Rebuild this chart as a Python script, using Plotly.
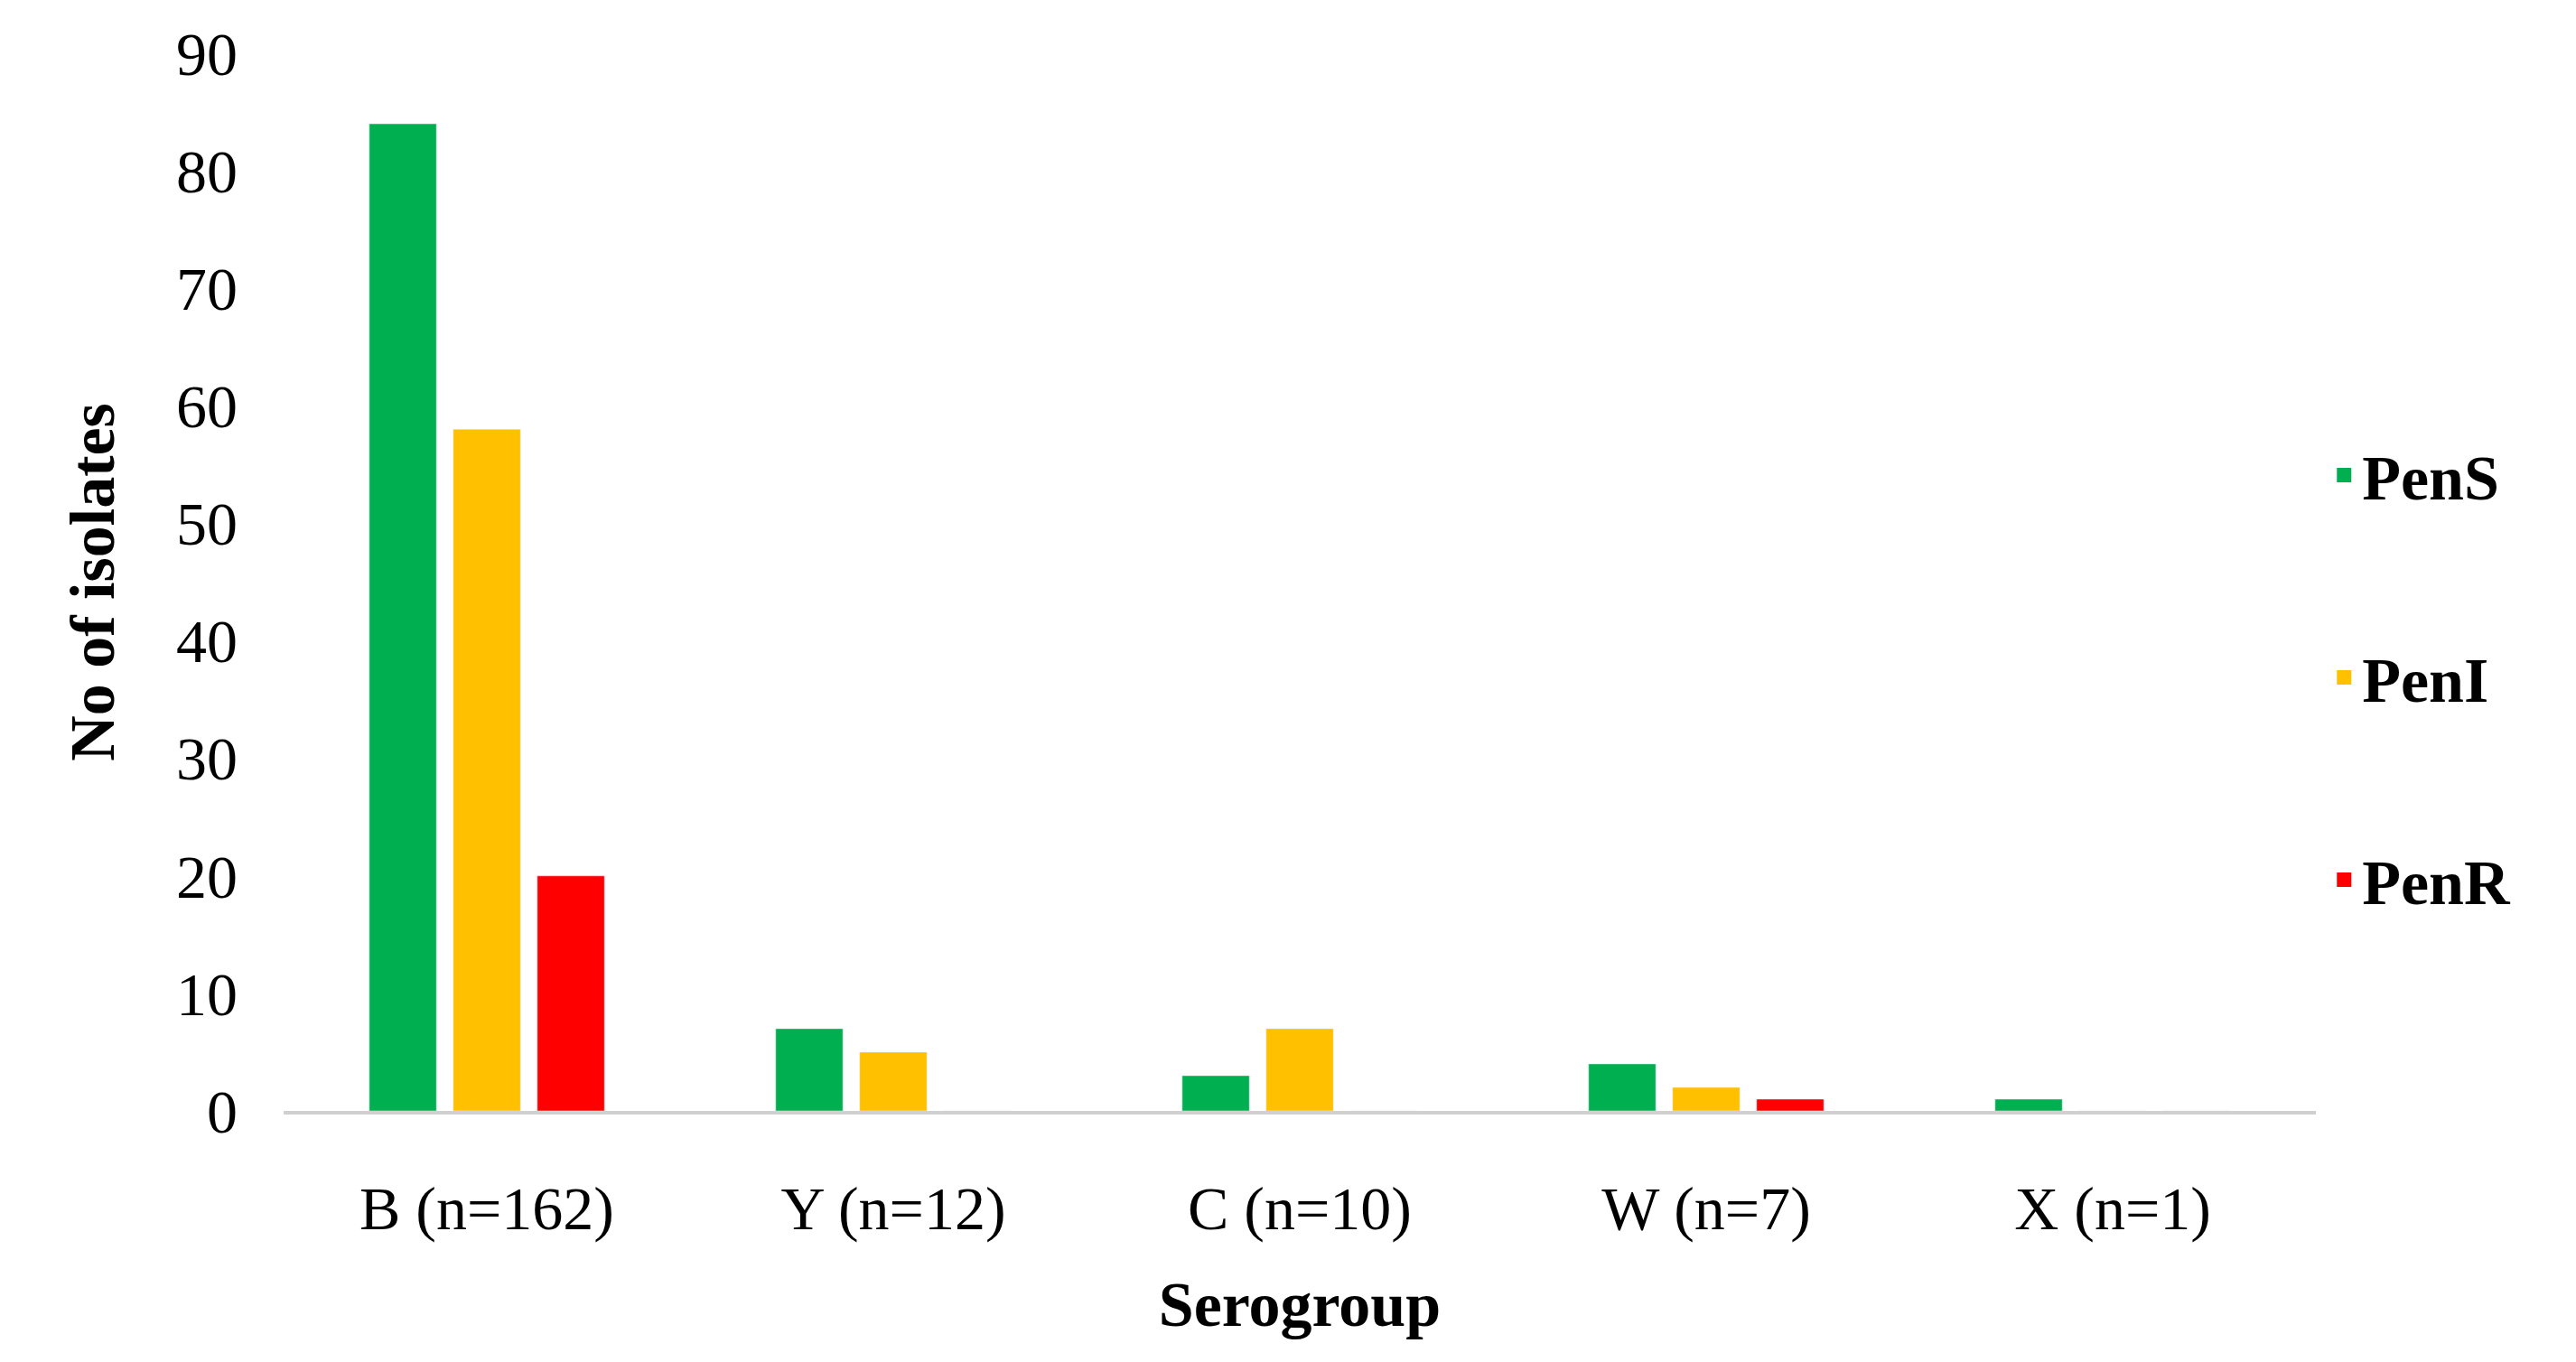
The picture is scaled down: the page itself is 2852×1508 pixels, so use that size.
import plotly.graph_objects as go

categories = ["B (n=162)", "Y (n=12)", "C (n=10)", "W (n=7)", "X (n=1)"]
pen_s = [84, 7, 3, 4, 1]
pen_i = [58, 5, 7, 2, 0]
pen_r = [20, 0, 0, 1, 0]
series = [("PenS", pen_s, "#00b050"), ("PenI", pen_i, "#ffc000"), ("PenR", pen_r, "#ff0000")]

fig = go.Figure()
for i, (name, vals, col) in enumerate(series):
    fig.add_bar(x=categories, y=vals, name=name, marker_color=col, showlegend=False)
for i, (name, vals, col) in enumerate(series):
    fig.add_scatter(x=[None], y=[None], mode="markers", name=name, legendgroup=str(i),
                    marker=dict(symbol="square", size=40, color=col))

font = "Liberation Serif"
fig.update_layout(
    width=2852, height=1508, plot_bgcolor="white", paper_bgcolor="white",
    margin=dict(l=306, r=296, t=51, b=286),
    barmode="group", bargap=0.38, bargroupgap=0.2,
    font=dict(family=font, size=68, color="black"),
    legend=dict(x=1.005, y=0.41, yanchor="middle", xanchor="left", tracegroupgap=130,
                font=dict(family=font, size=70, color="black", weight="bold")),
    xaxis=dict(showline=True, linecolor="#d0d0d0", linewidth=4, ticks="outside",
               ticklen=45, tickcolor="rgba(0,0,0,0)",
               tickfont=dict(size=68),
               title=dict(text="<b>Serogroup</b>", font=dict(size=70), standoff=45)),
    yaxis=dict(range=[0, 90], dtick=10, showgrid=False, zeroline=False, ticks="",
               tickfont=dict(size=68), ticklabelstandoff=50,
               title=dict(text="<b>No of isolates</b>", font=dict(size=70), standoff=45)),
)
fig.write_html("out.html")
